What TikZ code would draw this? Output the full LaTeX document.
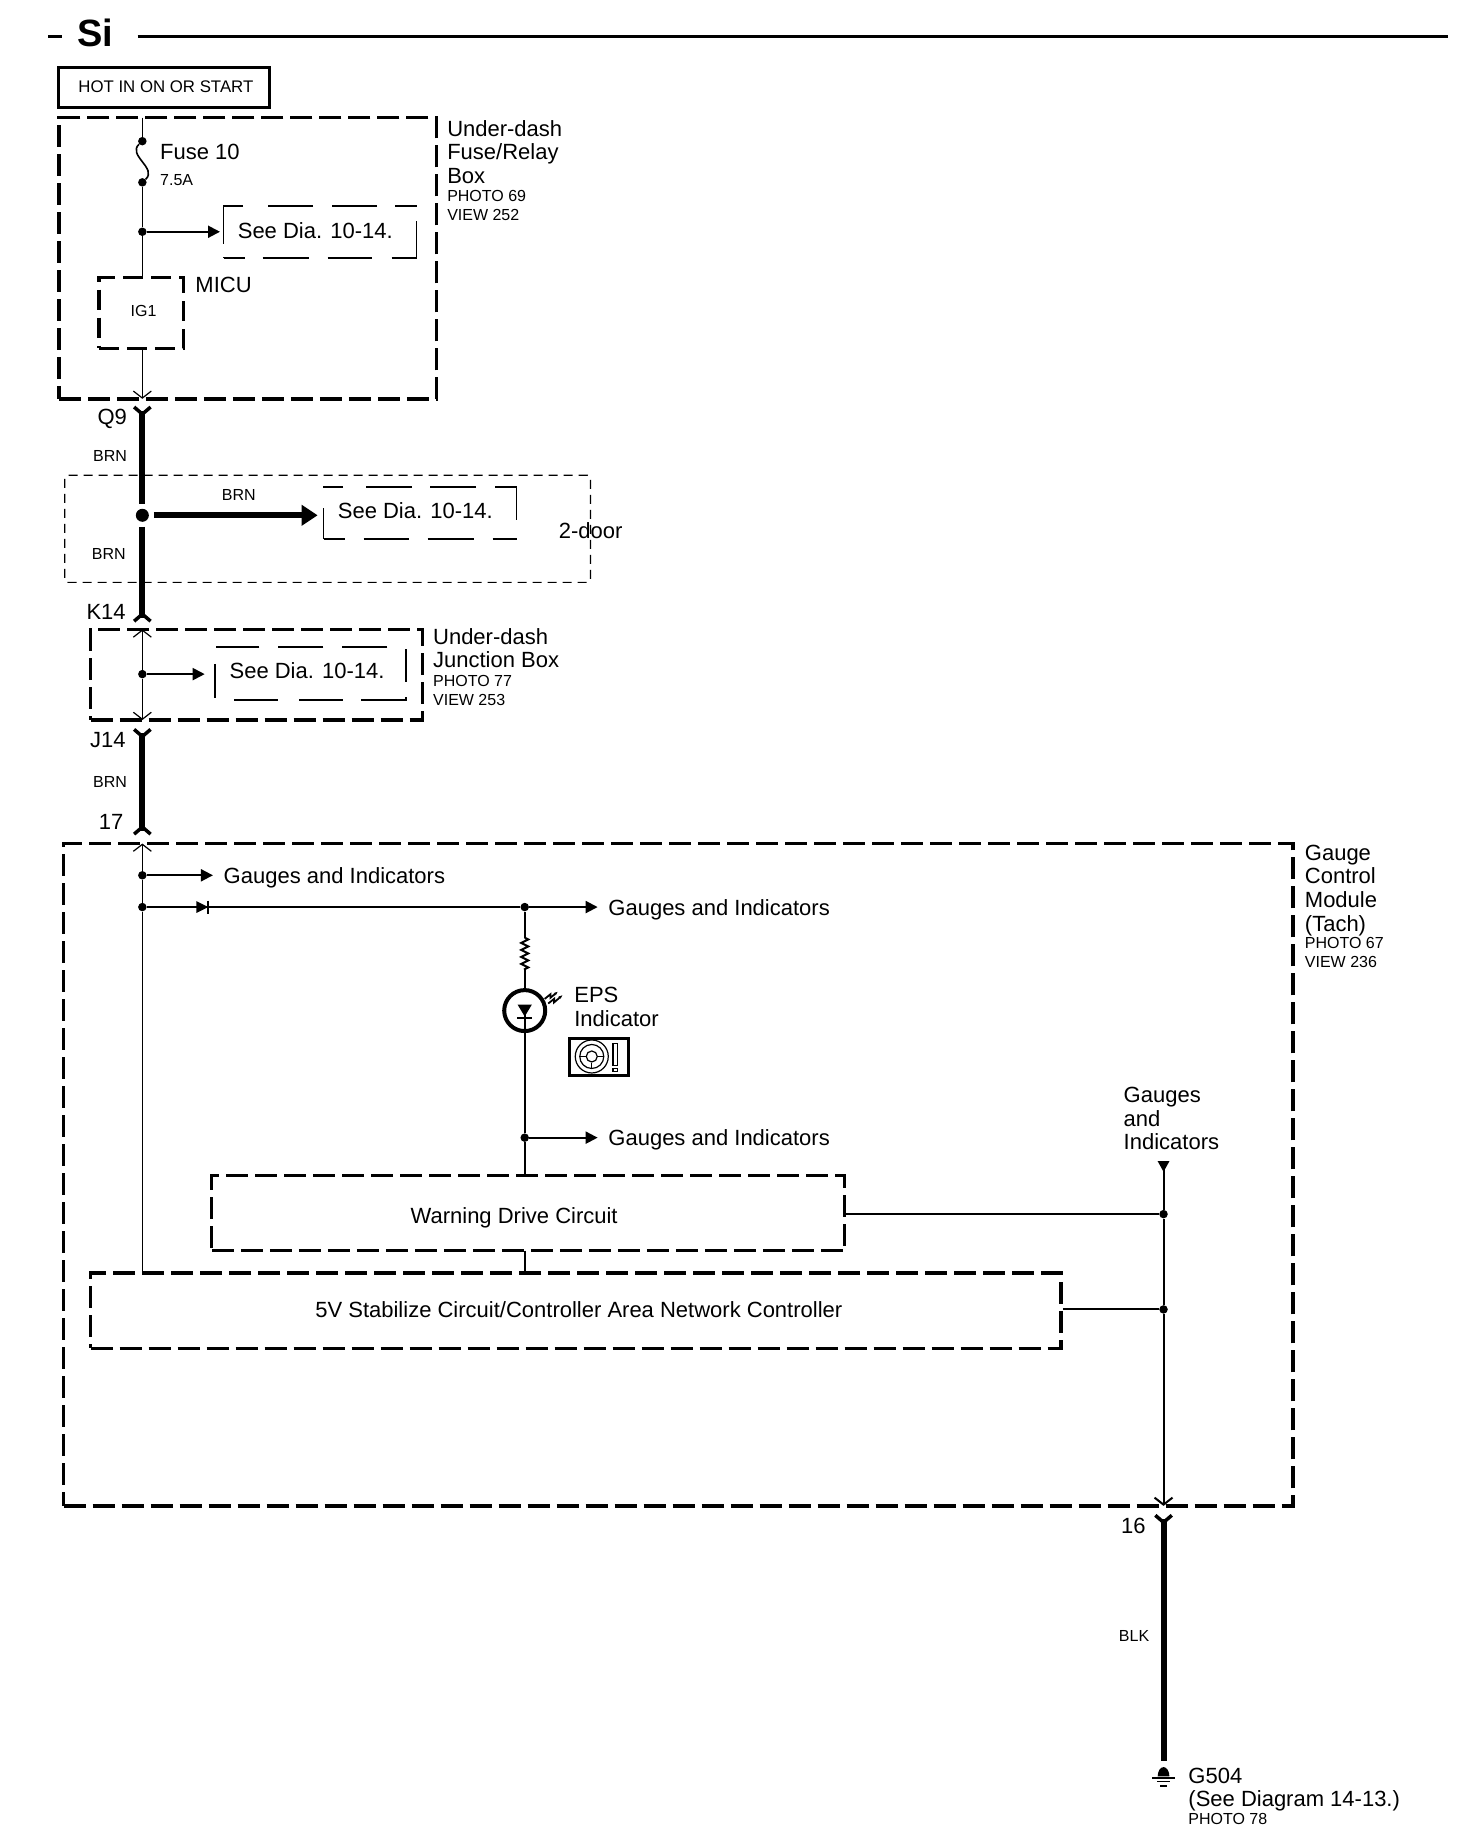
\documentclass[tikz,border=0pt]{standalone}
\usepackage{fontspec}
\setmainfont{Liberation Sans}
\usepackage{xcolor}
\usepackage{tikz}
\usetikzlibrary{positioning,fit,arrows.meta,decorations.pathmorphing}

\newcommand{\bigtxt}{\fontsize{22}{23.6}\selectfont}
\newcommand{\smalltxt}{\fontsize{16}{19}\selectfont}

\tikzset{
    plug/.pic={\draw[line width=3.5pt] (-7,-3) -- (0,3) -- (7,-3);},
}

\begin{document}
\begin{tikzpicture}[x=1.1765pt, y=-1.1765pt,
        heavybox/.style={draw, line width=3.4pt, dash pattern=on 22pt off 7pt, inner sep=0pt},
        micubox/.style={draw, line width=3.4pt, dash pattern=on 20pt off 8pt, inner sep=0pt},
        seebox/.style={draw, line width=1.8pt, inner sep=0pt},
        doorbox/.style={draw, line width=1.2pt, dash pattern=on 9pt off 6pt, rounded corners=3pt, inner sep=0pt},
        solidbox/.style={draw, line width=3pt, inner sep=0pt},
        bigtext/.style={font=\bigtxt, inner sep=0pt},
        smalltext/.style={font=\smalltxt, inner sep=0pt},
        boxlabel/.style={font=\bigtxt, inner sep=0pt, align=left, anchor=north west},
        dot/.style={circle, fill, inner sep=0pt, minimum size=8.5pt},
        bigdot/.style={circle, fill, inner sep=0pt, minimum size=13pt, outer sep=5pt},
        wire/.style={line width=1.2pt},
        midwire/.style={line width=2pt},
        thickwire/.style={line width=6pt},
        branch/.style={line width=2pt, -{Triangle[length=12pt,width=12pt]}},
        bigbranch/.style={line width=6pt, -{Triangle[length=16pt,width=20pt]}},
        barbend/.style={-{Straight Barb[length=7pt,width=18pt]}},
        barbstart/.style={{Straight Barb[length=7pt,width=18pt]}-},
    ]
        \useasboundingbox (0,0) rectangle (1251.2,1567.4);

        \coordinate (ruleA) at (41,31);
        \coordinate (ruleB) at (53,31);
        \coordinate (ruleC) at (117,31);
        \coordinate (ruleD) at (1231,31);
        \draw[line width=3pt] (ruleA) -- (ruleB);
        \draw[line width=3pt] (ruleC) -- (ruleD);
        \node (title) [font=\fontsize{38}{38}\selectfont\bfseries, inner sep=0pt] at (81,28) {Si};

        \node (hotbox) [solidbox, fit={(50,57) (229,91)}] {};
        \node (hottext) [font=\fontsize{16.8}{19}\selectfont, inner sep=0pt] at (141,74) {HOT IN ON OR START};

        \node (fusebox) [heavybox, fit={(50,100) (371,339)}] {};
        \node (fuselabel) [boxlabel] at (380,102) {Under-dash\\Fuse/Relay\\Box\\[-5pt]{\smalltxt PHOTO 69}\\[-4.6pt]{\smalltxt VIEW 252}};
        \coordinate (busA) at (121,100);
        \node (fuseA) [dot] at (121,120) {};
        \node (fuseB) [dot] at (121,155) {};
        \node (fusetext) [bigtext, anchor=west] at (136,129) {Fuse 10};
        \node (fuseamps) [smalltext, anchor=west] at (136,153) {7.5A};
        \node (jfuse) [dot] at (121,197) {};
        \coordinate (tipfuse) at (187,197);
        \node (seeA) [seebox, dash pattern=on 21pt off 18pt on 46pt off 19pt on 44pt off 20pt on 62pt off 14pt on 22pt off 18pt on 45pt off 19pt on 45pt off 25pt on 58pt off 13pt, fit={(190,175) (354,219)}] {};
        \node (seeAtext) [bigtext] at (268,196) {See Dia. 10-14.};
        \node (micubox) [micubox, fit={(84,236) (156,296)}] {};
        \node (ig) [smalltext] at (122,264) {IG1};
        \node (micutext) [bigtext, anchor=west] at (166,242) {MICU};
        \coordinate (micutop) at (121,236);
        \coordinate (micubot) at (121,296);
        \coordinate (endfuse) at (121,339);

        \draw[wire] (busA) -- (fuseA);
        \draw[line width=1.6pt] (fuseA) .. controls (108,132) and (134,143) .. (fuseB);
        \draw[wire] (fuseB) -- (jfuse);
        \draw[wire] (jfuse) -- (micutop);
        \draw[wire, barbend] (micubot) -- (endfuse);
        \draw[branch] (jfuse) -- (tipfuse);

        \coordinate (q9) at (121,349);
        \node (j2door) [bigdot] at (121,438) {};
        \coordinate (k14) at (121,525);
        \coordinate (tip2door) at (270,438);
        \pic at (q9) {plug};
        \pic[yscale=-1] at (k14) {plug};
        \draw[thickwire] (q9) -- (j2door);
        \draw[thickwire] (j2door) -- (k14);
        \draw[bigbranch] (j2door) -- (tip2door);
        \node (q9text) [bigtext, anchor=east] at (108,356) {Q9};
        \node (brnA) [smalltext, anchor=east] at (108,388) {BRN};
        \node (brnB) [smalltext] at (203,421) {BRN};
        \node (brnC) [smalltext, anchor=east] at (107,471) {BRN};
        \node (k14text) [bigtext, anchor=east] at (107,520) {K14};

        \node (doorbox) [doorbox, fit={(55,404) (502,495)}] {};
        \node (doortext) [bigtext] at (502,451) {2-door};
        \node (seeB) [seebox, dash pattern=on 21pt off 19pt on 45pt off 19pt on 46pt off 19pt on 25pt off 18pt on 54pt off 19pt on 46pt off 18pt on 46pt off 23pt on 21pt off 20pt on 31pt off 9pt, fit={(275,414) (439,458)}] {};
        \node (seeBtext) [bigtext] at (353,434) {See Dia. 10-14.};

        \node (junctbox) [heavybox, fit={(77,535) (359,612)}] {};
        \node (junctlabel) [boxlabel] at (368,534) {Under-dash\\Junction Box\\[-5pt]{\smalltxt PHOTO 77}\\[-4.6pt]{\smalltxt VIEW 253}};
        \coordinate (juncttop) at (121,535);
        \coordinate (junctbot) at (121,612);
        \node (jjunct) [dot] at (121,573) {};
        \coordinate (tipjunct) at (174,573);
        \node (seeC) [seebox, dash pattern=on 0pt off 19pt on 44pt off 21pt on 44pt off 18pt on 48pt off 15pt on 33pt off 20pt on 45pt off 19pt on 45pt off 19pt on 43pt off 18pt on 34pt off 9pt, fit={(183,550) (345,595)}] {};
        \node (seeCtext) [bigtext] at (261,570) {See Dia. 10-14.};
        \draw[wire, barbstart] (juncttop) -- (jjunct);
        \draw[wire, barbend] (jjunct) -- (junctbot);
        \draw[branch] (jjunct) -- (tipjunct);

        \coordinate (j14) at (121,623);
        \coordinate (c17) at (121,706);
        \pic at (j14) {plug};
        \pic[yscale=-1] at (c17) {plug};
        \draw[thickwire] (j14) -- (c17);
        \node (j14text) [bigtext, anchor=east] at (107,629) {J14};
        \node (brnD) [smalltext, anchor=east] at (108,665) {BRN};
        \node (c17text) [bigtext, anchor=east] at (105,699) {17};

        \node (gaugebox) [heavybox, fit={(54,717) (1099,1280)}] {};
        \node (gaugelabel) [boxlabel] at (1109,718) {Gauge\\Control\\Module\\(Tach)\\[-6pt]{\smalltxt PHOTO 67}\\[-4.6pt]{\smalltxt VIEW 236}};

        \coordinate (gaugetop) at (121,717);
        \node (jA) [dot] at (121,744) {};
        \node (jB) [dot] at (121,771) {};
        \coordinate (tipA) at (181,744);
        \node (gaugesA) [bigtext, anchor=west] at (190,746) {Gauges and Indicators};
        \node (jC) [dot] at (446,771) {};
        \coordinate (tipC) at (508,771);
        \node (gaugesC) [bigtext, anchor=west] at (517,773) {Gauges and Indicators};
        \coordinate (diodeL) at (167,771);
        \coordinate (diodeR) at (177,771);
        \fill (diodeL) ++(0,-5) -- (diodeR) -- ++(-10,5) -- cycle;
        \draw[line width=1.6pt] (diodeR) ++(0,-5.5) -- ++(0,11);

        \draw[wire, barbstart] (gaugetop) -- (jA);
        \draw[wire] (jA) -- (jB);
        \draw[branch] (jA) -- (tipA);
        \draw[midwire] (jB) -- (jC);
        \draw[branch] (jC) -- (tipC);

        \coordinate (resA) at (446,797);
        \coordinate (resB) at (446,824);
        \node (led) [circle, draw, line width=4pt, inner sep=0pt, minimum size=41pt] at (446,859) {};
        \node (jD) [dot] at (446,967) {};
        \coordinate (tipD) at (508,967);
        \node (gaugesD) [bigtext, anchor=west] at (517,969) {Gauges and Indicators};
        \draw[midwire] (jC) -- (resA);
        \draw[midwire, decorate, decoration={zigzag, segment length=7pt, amplitude=3.5pt}] (resA) -- (resB);
        \draw[midwire] (resB) -- (led.north);
        \draw[midwire] (led.center) -- (jD);
        \fill (440,854) -- (452,854) -- (446,864) -- cycle;
        \draw[line width=2pt] (439.5,865) -- (452.5,865);
        \draw[line width=1.8pt, -{Stealth[length=4pt]}] (463,849) -- (468,845) -- (468,848) -- (474,843);
        \draw[line width=1.8pt, -{Stealth[length=4pt]}] (466,853) -- (471,849) -- (471,852) -- (478,846);
        \node (epstext) [boxlabel] at (488,839) {EPS\\Indicator};

        \node (iconbox) [solidbox, fit={(484,883) (534,914)}] {};
        \node (wheelA) [circle, draw, line width=1.2pt, inner sep=0pt, minimum size=33pt] at (503,898) {};
        \node (wheelB) [circle, draw, line width=1.2pt, inner sep=0pt, minimum size=24pt] at (503,898) {};
        \node (wheelC) [circle, draw, line width=1.2pt, inner sep=0pt, minimum size=11pt] at (503,898) {};
        \draw[line width=1.2pt] (wheelB.west) -- (wheelC.west);
        \draw[line width=1.2pt] (wheelB.east) -- (wheelC.east);
        \draw[line width=1.2pt] (wheelB.south) -- (wheelC.south);
        \node (warnmark) [draw, line width=1.2pt, inner sep=0pt, fit={(521,887) (525,906)}] {};
        \node (warndot) [draw, line width=1.2pt, inner sep=0pt, fit={(521,908) (525,911)}] {};

        \node (warnbox) [heavybox, fit={(180,999) (718,1063)}] {};
        \node (warntext) [bigtext] at (437,1035) {Warning Drive Circuit};
        \node (stabbox) [heavybox, fit={(77,1082) (902,1146)}] {};
        \node (stabtext) [bigtext] at (492,1113) {5V Stabilize Circuit/Controller Area Network Controller};
        \coordinate (warntop) at (446,999);
        \coordinate (warnbot) at (446,1063);
        \coordinate (stabtop) at (446,1082);
        \coordinate (busend) at (121,1082);
        \draw[midwire] (jD) -- (warntop);
        \draw[branch] (jD) -- (tipD);
        \draw[midwire] (warnbot) -- (stabtop);
        \draw[wire] (jB) -- (busend);

        \coordinate (rightstart) at (989,987);
        \node (jE) [dot] at (989,1032) {};
        \node (jF) [dot] at (989,1113) {};
        \coordinate (gaugebot) at (989,1280);
        \node (gaugesE) [boxlabel] at (955,924) {Gauges\\and\\Indicators};
        \fill (984,987) -- (994,987) -- (989,996) -- cycle;
        \draw[midwire] (rightstart) -- (jE);
        \draw[midwire] (jE) -- (jF);
        \draw[midwire, barbend] (jF) -- (gaugebot);
        \draw[midwire] (warnbox.east |- jE) -- (jE);
        \draw[midwire] (stabbox.east |- jF) -- (jF);

        \coordinate (c16) at (989,1291);
        \coordinate (thickend) at (989,1497);
        \pic at (c16) {plug};
        \draw[thickwire] (c16) -- (thickend);
        \node (c16text) [bigtext, anchor=east] at (974,1297) {16};
        \node (blk) [smalltext, anchor=east] at (977,1391) {BLK};

        \fill (984,1510) arc (180:360:5 and 8) -- cycle;
        \draw[line width=2pt] (979.5,1511) -- (998.5,1511);
        \draw[line width=1.4pt] (983.5,1514.5) -- (994.5,1514.5);
        \draw[line width=1.4pt] (986,1518) -- (992,1518);
        \node (gndlabel) [boxlabel] at (1010,1503) {G504\\[-1pt](See Diagram 14-13.)\\[-5.5pt]{\smalltxt PHOTO 78}};
    \end{tikzpicture}
\end{document}
